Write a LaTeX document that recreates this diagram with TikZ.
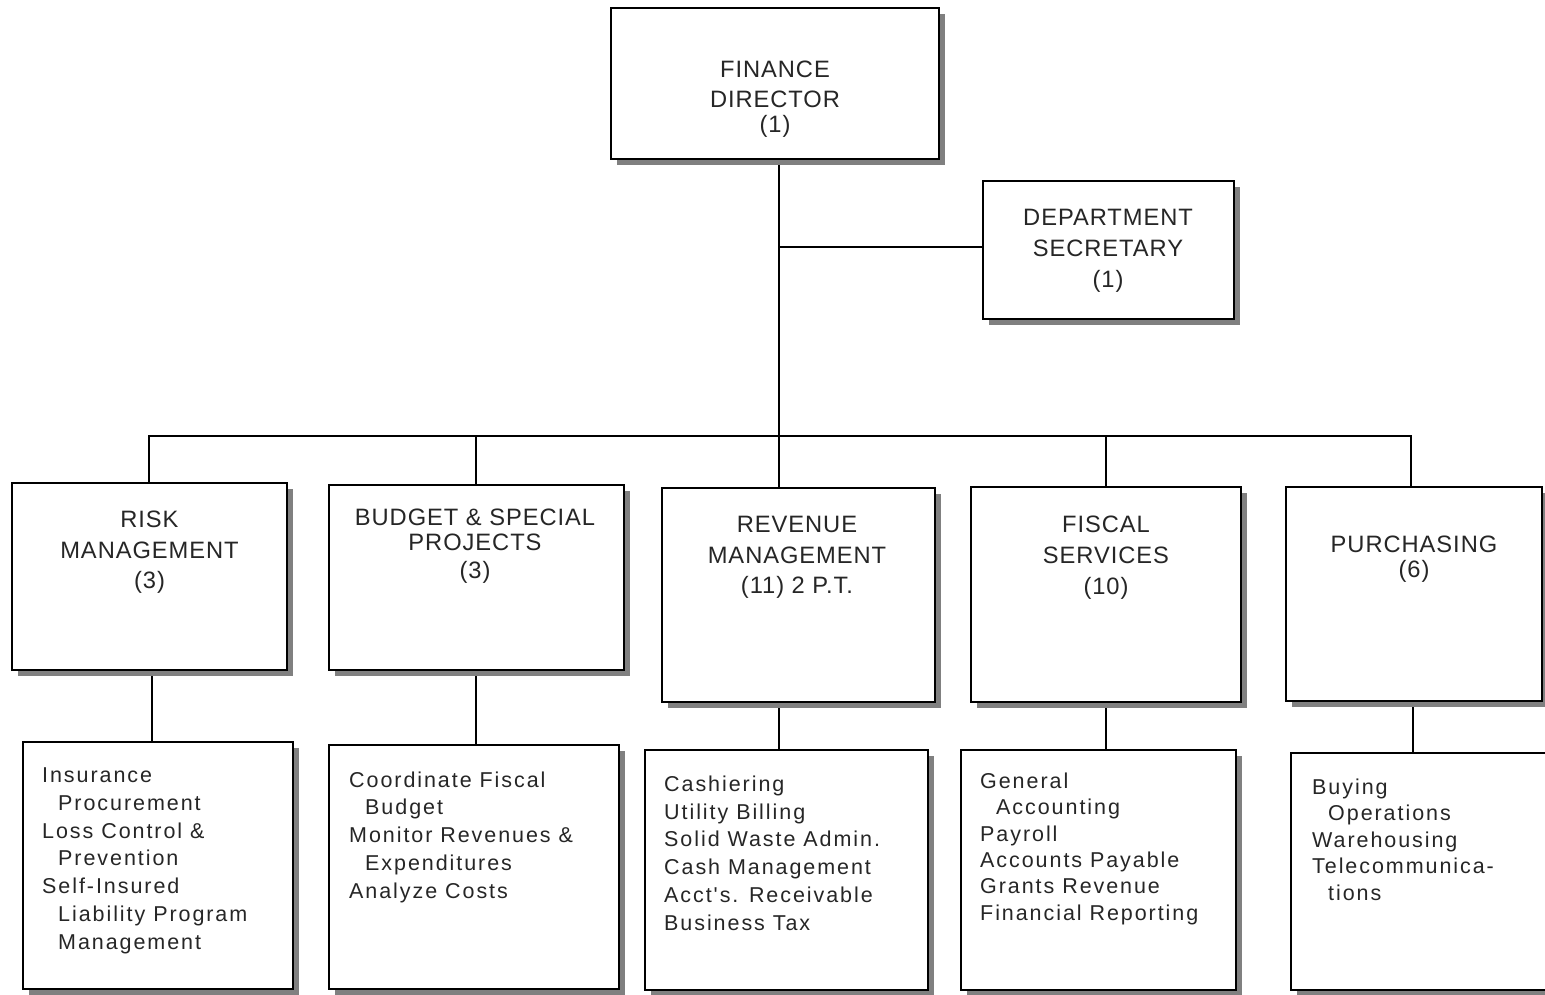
\documentclass[tikz,border=0pt]{standalone}
\usepackage{fontspec}
\newfontfamily\headfont{Liberation Sans}[LetterSpace=4]
\newfontfamily\listfont{Liberation Sans}[LetterSpace=9]
\usetikzlibrary{shadows}
\pgfdeclarelayer{background}
\pgfsetlayers{background,main}

% text nodes are placed by the baseline of their last line
\tikzset{
  unit/.style={draw=black, line width=2pt, fill=white, rectangle, inner sep=0pt,
    drop shadow={shadow xshift=6pt, shadow yshift=-6pt, fill=black!50, opacity=1}},
  head/.style={anchor=base, align=center, inner sep=0pt, text=black!85,
    font=\headfont\fontsize{23.7}{30}\selectfont},
  duties/.style={anchor=base west, align=left, inner sep=0pt, text=black!85,
    font=\listfont\fontsize{21.5}{27.7}\selectfont},
  link/.style={line width=2pt},
}
\newcommand{\ind}{\hspace*{16pt}}

\begin{document}
\begin{tikzpicture}[x=1pt,y=-1pt]
\useasboundingbox (0,0) rectangle (1545,994);

% director and secretary
\node[unit, minimum width=328pt, minimum height=151pt] (dir) at (775,83.5) {};
\node[head] (dirT) at (775,132) {FINANCE\\DIRECTOR\\[-5pt](1)};
\node[unit, minimum width=251pt, minimum height=138pt] (sec) at (1108.5,250) {};
\node[head] (secT) at (1108,287) {DEPARTMENT\\[1pt]SECRETARY\\[1pt](1)};

% divisions
\node[unit, minimum width=275pt, minimum height=187pt] (risk) at (149.5,576.5) {};
\node[head] (riskT) at (149.5,588) {RISK\\[1pt]MANAGEMENT\\(3)};
\node[unit, minimum width=295pt, minimum height=185pt] (bud) at (476.5,577.5) {};
\node[head] (budT) at (475,578) {BUDGET \& SPECIAL\\[-5pt]PROJECTS\\[-2pt](3)};
\node[unit, minimum width=273pt, minimum height=214pt] (rev) at (798.5,595) {};
\node[head] (revT) at (797,593) {REVENUE\\[1pt]MANAGEMENT\\(11) 2 P.T.};
\node[unit, minimum width=270pt, minimum height=215pt] (fisc) at (1106,594.5) {};
\node[head] (fiscT) at (1106,594) {FISCAL\\[1pt]SERVICES\\[1pt](10)};
\node[unit, minimum width=256pt, minimum height=214pt] (pur) at (1414,594) {};
\node[head] (purT) at (1414,577) {PURCHASING\\[-5pt](6)};

% duties of each division
\node[unit, minimum width=270pt, minimum height=247pt] (riskD) at (158,865.5) {};
\node[duties] (riskL) at (42,949) {Insurance\\\ind Procurement\\Loss Control \&\\\ind Prevention\\Self-Insured\\\ind Liability Program\\\ind Management};
\node[unit, minimum width=290pt, minimum height=244pt] (budD) at (474,867) {};
\node[duties] (budL) at (349,898) {Coordinate Fiscal\\\ind Budget\\Monitor Revenues \&\\\ind Expenditures\\Analyze Costs};
\node[unit, minimum width=283pt, minimum height=240pt] (revD) at (786.5,870) {};
\node[duties] (revL) at (664,930) {Cashiering\\Utility Billing\\Solid Waste Admin.\\Cash Management\\Acct{\char39}s. Receivable\\Business Tax};
\node[unit, minimum width=275pt, minimum height=240pt] (fiscD) at (1098.5,870) {};
\node[duties, font=\listfont\fontsize{21.5}{26.3}\selectfont] (fiscL) at (980,920) {General\\\ind Accounting\\Payroll\\Accounts Payable\\Grants Revenue\\Financial Reporting};
\node[unit, minimum width=259pt, minimum height=237pt] (purD) at (1420.5,871.5) {};
\node[duties, font=\listfont\fontsize{21.5}{26.5}\selectfont] (purL) at (1312,900) {Buying\\\ind Operations\\Warehousing\\Telecommunica-\\\ind tions};

% connector columns
\coordinate (cSec) at (779,247);
\coordinate (cRisk) at (149,436);
\coordinate (cBud) at (476,436);
\coordinate (cRev) at (779,436);
\coordinate (cFisc) at (1106,436);
\coordinate (cPur) at (1411,436);
\coordinate (dRisk) at (152,0);
\coordinate (dBud) at (476,0);
\coordinate (dRev) at (779,0);
\coordinate (dFisc) at (1106,0);
\coordinate (dPur) at (1413,0);

\begin{pgfonlayer}{background}
  \draw[link] (cSec |- dir.south) -- (cRev |- rev.north);
  \draw[line width=1.4pt] (cSec) -- (cSec -| sec.west);
  \draw[link] (cRisk |- risk.north) -- (cRisk) -- (cPur) -- (cPur |- pur.north);
  \draw[link] (cBud) -- (cBud |- bud.north);
  \draw[link] (cFisc) -- (cFisc |- fisc.north);
  \draw[link] (dRisk |- risk.south) -- (dRisk |- riskD.north);
  \draw[link] (dBud |- bud.south) -- (dBud |- budD.north);
  \draw[link] (dRev |- rev.south) -- (dRev |- revD.north);
  \draw[link] (dFisc |- fisc.south) -- (dFisc |- fiscD.north);
  \draw[link] (dPur |- pur.south) -- (dPur |- purD.north);
\end{pgfonlayer}
\end{tikzpicture}
\end{document}
